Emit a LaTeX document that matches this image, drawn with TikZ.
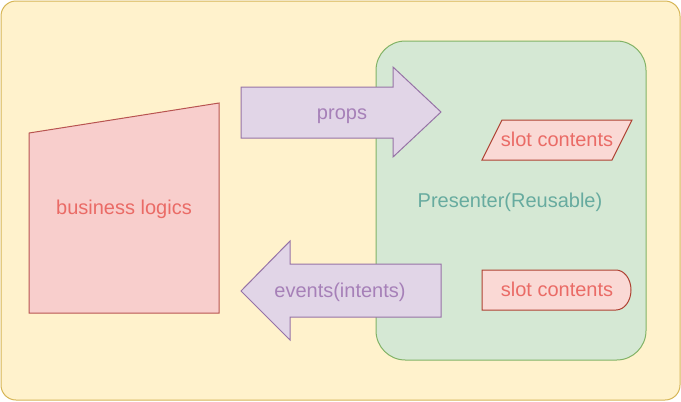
\documentclass[tikz,border=0pt]{standalone}
\usepackage{fontspec}
\setmainfont{Liberation Sans}
\definecolor{outerfill}{HTML}{FFF2CC}
\definecolor{outerdraw}{HTML}{D6B656}
\definecolor{greenfill}{HTML}{D5E8D4}
\definecolor{greendraw}{HTML}{82B366}
\definecolor{greentext}{HTML}{67AB9F}
\definecolor{purfill}{HTML}{E1D5E7}
\definecolor{purdraw}{HTML}{9673A6}
\definecolor{purtext}{HTML}{A680B8}
\definecolor{redfill}{HTML}{F8CECC}
\definecolor{reddraw}{HTML}{B85450}
\definecolor{redtext}{HTML}{EA6B66}
\definecolor{slotfill}{HTML}{FAD9D5}
\definecolor{slotdraw}{HTML}{AE4132}
\begin{document}
\begin{tikzpicture}[x=0.75pt,y=-0.75pt,line width=0.75pt,
  lbl/.style={font=\fontsize{15}{18}\selectfont, inner sep=0pt, text height=10.7pt, text depth=3.2pt},
  arrowshape/.style={fill=purfill, draw=purdraw, line join=miter}]
\useasboundingbox (0,0) rectangle (681,401);
% outer container
\draw[fill=outerfill, draw=outerdraw, rounded corners=11.25pt] (1,1) rectangle (680,400);
% presenter container
\draw[fill=greenfill, draw=greendraw, rounded corners=22pt] (376,41) rectangle (646,360);
\node[lbl, text=greentext] (presenter) at (510,202) {Presenter(Reusable)};
% business logics
\draw[fill=redfill, draw=reddraw] (29,133) -- (219,103) -- (219,313) -- (29,313) -- cycle;
\node[lbl, text=redtext] (business) at (124,209) {business logics};
% props arrow
\draw[arrowshape] (241,87) -- (393,87) -- (393,67) -- (441,112) -- (393,157) -- (393,138) -- (241,138) -- cycle;
\node[lbl, text=purtext] (props) at (342,114) {props};
% events arrow
\draw[arrowshape] (441,264) -- (290,264) -- (290,241) -- (241,291) -- (290,340) -- (290,317) -- (441,317) -- cycle;
\node[lbl, text=purtext] (events) at (340,292) {events(intents)};
% slot contents parallelogram
\draw[fill=slotfill, draw=slotdraw] (482,160) -- (502,120) -- (632,120) -- (612,160) -- cycle;
\node[lbl, text=redtext] (slot1) at (557,141) {slot contents};
% slot contents delay shape
\draw[fill=slotfill, draw=slotdraw] (482,270) -- (616,270) arc[start angle=90, end angle=-90, x radius=15, y radius=-20] -- (482,310) -- cycle;
\node[lbl, text=redtext] (slot2) at (557,291) {slot contents};
\end{tikzpicture}
\end{document}
